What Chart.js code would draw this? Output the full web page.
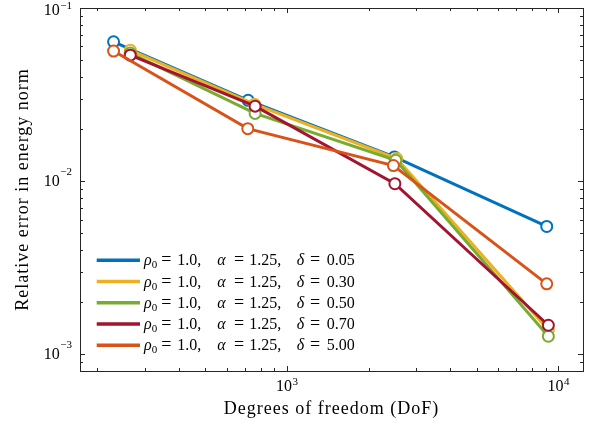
<!DOCTYPE html>
<html>
<head>
<meta charset="utf-8">
<script src="https://cdn.jsdelivr.net/npm/chart.js@4.4.1/dist/chart.umd.min.js"></script>
<style>
  html, body { margin: 0; padding: 0; background: #fff; }
  #wrap { width: 595px; height: 424px; }
</style>
</head>
<body>
<div id="wrap"><canvas id="grafico" width="595" height="424"></canvas></div>
<script>
// DATOS
const deltas = ["0.05", "0.30", "0.50", "0.70", "5.00"];
const colores = ["#0072BD", "#EDB120", "#77AC30", "#A2142F", "#D95319"];

const dofDelta005 = [230, 720, 2490, 9065];
const dofDelta030 = [265, 760, 2540, 9190];
const dofDelta050 = [265, 764, 2520, 9190];
const dofDelta070 = [265, 764, 2500, 9190];
const dofDelta500 = [230, 718, 2470, 9065];

const errDelta005 = [0.0638, 0.0293, 0.0138, 0.00547];
const errDelta030 = [0.0571, 0.0278, 0.0135, 0.00138];
const errDelta050 = [0.0549, 0.0246, 0.0132, 0.00127];
const errDelta070 = [0.0534, 0.0271, 0.00966, 0.00147];
const errDelta500 = [0.0564, 0.0201, 0.0123, 0.00255];

// ETIQUETAS DE LOS EJES (base 10 con exponente)
const xMayores = [1000, 10000];
const xExponentes = ["3", "4"];
const yMayores = [0.1, 0.01, 0.001];
const yExponentes = ["−1", "−2", "−3"];

const fuente = "Liberation Serif";
const colorEje = "#262626";

const dofs = [dofDelta005, dofDelta030, dofDelta050, dofDelta070, dofDelta500];
const errores = [errDelta005, errDelta030, errDelta050, errDelta070, errDelta500];

// marcas menores del eje logaritmico (k * 10^n)
function marcasLog(min, max) {
  const lista = [];
  for (let e = -4; e <= 5; e++) {
    for (let k = 1; k <= 9; k++) {
      const v = +(k * Math.pow(10, e)).toPrecision(3);
      if (v >= min && v <= max) lista.push({ value: v, major: k === 1 });
    }
  }
  return lista;
}

const datasets = deltas.map((d, i) => ({
  label: `δ = ${d}`,
  data: dofs[i].map((x, j) => ({ x: x, y: errores[i][j] })),
  borderColor: colores[i],
  borderWidth: 3,
  pointRadius: 5.5,
  pointHoverRadius: 5.5,
  pointBorderWidth: 2,
  pointBackgroundColor: "#fff",
  pointBorderColor: colores[i],
  tension: 0,
  fill: false,
  clip: false,
  order: deltas.length - i,
}));

// espaciado de letras para los titulos de ejes (imita la tipografia LaTeX)
const espaciado = {
  id: "espaciado",
  beforeDraw(chart) { chart.ctx.letterSpacing = "1px"; },
  beforeDatasetsDraw(chart) { chart.ctx.letterSpacing = "0px"; },
};

//MARCOS, MARCAS HACIA ADENTRO Y ETIQUETAS 10^n
const marcos = {
  id: "marcos",
  afterDatasetsDraw(chart) {
    const { ctx, chartArea: a, scales } = chart;
    ctx.save();
    ctx.letterSpacing = "0px";
    ctx.strokeStyle = colorEje;
    ctx.lineWidth = 1;
    ctx.beginPath();
    scales.x.ticks.forEach((t) => {
      const px = Math.round(scales.x.getPixelForValue(t.value)) + 0.5;
      const len = t.major ? 5 : 3;
      ctx.moveTo(px, a.bottom); ctx.lineTo(px, a.bottom - len);
      ctx.moveTo(px, a.top); ctx.lineTo(px, a.top + len);
    });
    scales.y.ticks.forEach((t) => {
      const py = Math.round(scales.y.getPixelForValue(t.value)) + 0.5;
      const len = t.major ? 5 : 3;
      ctx.moveTo(a.left, py); ctx.lineTo(a.left + len, py);
      ctx.moveTo(a.right, py); ctx.lineTo(a.right - len, py);
    });
    ctx.stroke();
    ctx.strokeRect(Math.round(a.left) + 0.5, Math.round(a.top) + 0.5,
      Math.round(a.right - a.left), Math.round(a.bottom - a.top));

    // etiquetas de potencias de diez
    ctx.fillStyle = "#000";
    ctx.textBaseline = "alphabetic";
    ctx.textAlign = "left";
    const fBase = `16px "${fuente}"`;
    const fExp = `11px "${fuente}"`;
    ctx.font = fBase;
    const w10 = ctx.measureText("10").width;

    xMayores.forEach((v, i) => {
      const px = scales.x.getPixelForValue(v);
      ctx.font = fExp;
      const we = ctx.measureText(xExponentes[i]).width;
      const x0 = px - (w10 + we) / 2;
      ctx.font = fBase;
      ctx.fillText("10", x0, a.bottom + 20);
      ctx.font = fExp;
      ctx.fillText(xExponentes[i], x0 + w10 + 0.5, a.bottom + 14);
    });
    yMayores.forEach((v, i) => {
      const py = scales.y.getPixelForValue(v);
      ctx.font = fExp;
      const we = ctx.measureText(yExponentes[i]).width;
      const xe = a.left - 8 - we;
      // la etiqueta superior se baja para que quepa en la figura
      ctx.fillText(yExponentes[i], xe, Math.max(py - 6, 8.5));
      ctx.font = fBase;
      ctx.fillText("10", xe - 0.5 - w10, Math.max(py + 5, 14.5));
    });
    ctx.restore();
  },
};

//LEYENDA CON TEXTO MATEMATICO
const leyenda = {
  id: "leyenda",
  afterDraw(chart) {
    const { ctx, chartArea: a } = chart;
    ctx.save();
    ctx.letterSpacing = "0px";
    ctx.fillStyle = "#000";
    ctx.textBaseline = "alphabetic";
    deltas.forEach((d, i) => {
      const y = a.bottom - 110.7 + i * 21.25;
      ctx.strokeStyle = colores[i];
      ctx.lineWidth = 3.5;
      ctx.beginPath();
      ctx.moveTo(a.left + 16.7, y);
      ctx.lineTo(a.left + 60, y);
      ctx.stroke();

      const x0 = a.left + 64;
      const base = y + 5;
      // [texto, desplazamiento, fuente, alineacion, subindice]
      const partes = [
        ["ρ", 0, "italic 16px", "left"],
        ["0", 7.7, "11px", "left", 3],
        ["=", 22.3, "18px", "center"],
        ["1.0,", 33.3, "16px", "left"],
        ["α", 73.3, "italic 16px", "left"],
        ["=", 95, "18px", "center"],
        ["1.25,", 105.3, "16px", "left"],
        ["δ", 152.7, "italic 16px", "left"],
        ["=", 171, "18px", "center"],
        [d, 182.7, "16px", "left"],
      ];
      partes.forEach(([txt, dx, f, al, dy]) => {
        ctx.font = `${f} "${fuente}"`;
        ctx.textAlign = al;
        ctx.fillText(txt, x0 + dx, base + (dy || 0));
      });
    });
    ctx.restore();
  },
};

new Chart(document.getElementById("grafico"), {
  type: "line",
  data: { datasets: datasets },
  options: {
    responsive: false,
    animation: false,
    devicePixelRatio: 1,
    layout: { padding: { top: 8, right: 12, left: 0, bottom: 0 } },
    plugins: {
      legend: { display: false },
      tooltip: { enabled: false },
    },
    scales: {
      x: {
        type: "logarithmic",
        min: 173,
        max: 12330,
        afterBuildTicks: (s) => { s.ticks = marcasLog(173, 12330); },
        afterFit: (s) => { s.height = 53; s.paddingLeft = 0; s.paddingRight = 0; },
        grid: { display: false },
        border: { display: false },
        ticks: { display: false },
        title: {
          display: true,
          text: "Degrees of freedom (DoF)",
          color: "#000",
          font: { family: fuente, size: 18 },
          padding: { top: 0, bottom: 4 },
        },
      },
      y: {
        type: "logarithmic",
        min: 0.0008,
        max: 0.1,
        afterBuildTicks: (s) => { s.ticks = marcasLog(0.0008, 0.1); },
        afterFit: (s) => { s.width = 80; s.paddingTop = 0; s.paddingBottom = 0; },
        grid: { display: false },
        border: { display: false },
        ticks: { display: false },
        title: {
          display: true,
          text: "Relative error in energy norm",
          color: "#000",
          font: { family: fuente, size: 18 },
          padding: { top: 12, bottom: 0 },
        },
      },
    },
  },
  plugins: [espaciado, marcos, leyenda],
});
</script>
</body>
</html>
